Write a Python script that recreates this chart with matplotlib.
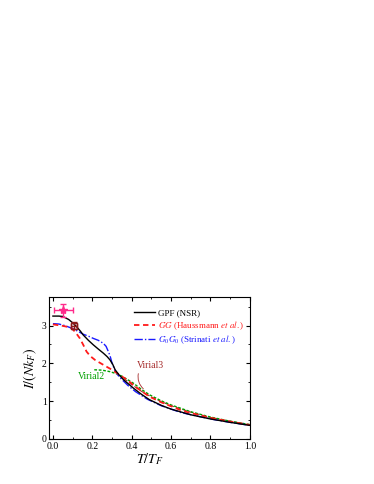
import numpy as np
import matplotlib
matplotlib.use("Agg")
import matplotlib.pyplot as plt

plt.rcParams['font.family'] = ['Liberation Serif', 'DejaVu Serif']
plt.rcParams['mathtext.fontset'] = 'stix'

# GPF (NSR) black solid
gpf_x = [0.0, 0.03, 0.05, 0.08, 0.103, 0.12, 0.14, 0.154, 0.18, 0.205, 0.23, 0.256, 0.275, 0.29, 0.305, 0.316, 0.335, 0.36, 0.41, 0.45, 0.49, 0.55, 0.6, 0.7, 0.8, 0.9, 1.0]
gpf_y = [3.25, 3.25, 3.24, 3.16, 3.06, 2.97, 2.85, 2.75, 2.61, 2.49, 2.38, 2.27, 2.18, 2.09, 1.96, 1.83, 1.70, 1.56, 1.34, 1.18, 1.04, 0.89, 0.79, 0.64, 0.53, 0.44, 0.36]

# GG (Haussmann et al.) red dashed
gg_x = [0.0, 0.04, 0.07, 0.095, 0.115, 0.137, 0.155, 0.171, 0.19, 0.214, 0.24, 0.273, 0.3, 0.34, 0.38, 0.43, 0.49, 0.55, 0.66, 0.8, 0.9, 1.0]
gg_y = [3.03, 3.0, 2.97, 2.93, 2.82, 2.66, 2.48, 2.31, 2.19, 2.09, 2.01, 1.91, 1.83, 1.69, 1.55, 1.34, 1.12, 0.97, 0.74, 0.56, 0.46, 0.37]

# G0G0 (Strinati et al.) blue dash-dot
g0_x = [0.0, 0.03, 0.06, 0.1, 0.13, 0.154, 0.18, 0.205, 0.23, 0.256, 0.27, 0.28, 0.29, 0.298, 0.307, 0.316, 0.33, 0.345, 0.38, 0.42, 0.48, 0.55, 0.65, 0.8, 0.9, 1.0]
g0_y = [3.05, 3.04, 3.0, 2.92, 2.84, 2.77, 2.72, 2.66, 2.61, 2.53, 2.45, 2.33, 2.20, 2.05, 1.92, 1.80, 1.69, 1.60, 1.42, 1.25, 1.05, 0.88, 0.70, 0.53, 0.44, 0.36]

# Virial2 green short dashes
v2_x = [0.21, 0.25, 0.29, 0.32, 0.34, 0.37, 0.41, 0.45, 0.49, 0.55, 0.6, 0.7, 0.8, 0.9, 1.0]
v2_y = [1.83, 1.82, 1.78, 1.73, 1.69, 1.60, 1.47, 1.31, 1.17, 1.01, 0.90, 0.72, 0.58, 0.47, 0.38]

# Virial3 brown
v3_x = [0.36, 0.4, 0.45, 0.5, 0.55, 0.6, 0.7, 0.8, 0.9, 1.0]
v3_y = [1.60, 1.44, 1.26, 1.11, 0.99, 0.88, 0.71, 0.57, 0.47, 0.38]

# experiments
exp1_x, exp1_y, exp1_xerr, exp1_yerr = [0.053], [3.40], [0.05], [0.17]
exp2_x, exp2_y, exp2_xerr, exp2_yerr = [0.108], [3.00], [0.015], [0.10]

fig = plt.figure(figsize=(3.74, 4.84), dpi=100)
ax = fig.add_axes([0.132, 0.093, 0.536, 0.293])

ax.plot(v3_x, v3_y, color='#a52a2a', lw=0.8, ls=(0, (4, 2)))
ax.plot(v2_x, v2_y, color='#00a000', lw=1.0, ls=(0, (2, 1.2)))
ax.plot(g0_x, g0_y, color='#1a1aff', lw=1.0, ls=(0, (6, 1.5, 1, 1.5)), label=r'$G_0G_0$ (Strinati $et\ al.$)')
ax.plot(gg_x, gg_y, color='#ff1a1a', lw=1.3, ls=(0, (3, 2)), label=r'$GG$ (Haussmann $et\ al.$)')
ax.plot(gpf_x, gpf_y, color='black', lw=1.0, label='GPF (NSR)')

ax.errorbar(exp1_x, exp1_y, xerr=exp1_xerr, yerr=exp1_yerr, fmt='*', color='#ff2a8a', ms=6, capsize=2, elinewidth=1.0)
ax.errorbar(exp2_x, exp2_y, xerr=exp2_xerr, yerr=exp2_yerr, fmt='s', color='#8b1a1a', mfc='none', ms=4, capsize=2, elinewidth=1.0, mew=1.0)

ax.text(0.125, 1.58, 'Virial2', color='#00a000', fontsize=7)
ax.text(0.428, 1.88, 'Virial3', color='#a52a2a', fontsize=7)
ax.annotate('', xy=(0.47, 1.28), xytext=(0.437, 1.80),
            arrowprops=dict(arrowstyle='-', color='#a52a2a', lw=0.6, connectionstyle='arc3,rad=0.35'))

ax.set_xlim(-0.018, 1.0)
ax.set_ylim(0, 3.75)
ax.set_xticks([0, 0.2, 0.4, 0.6, 0.8, 1.0])
ax.set_xticklabels(['0.0', '0.2', '0.4', '0.6', '0.8', '1.0'])
ax.set_yticks([0, 1, 2, 3])
ax.set_xticks(np.arange(0, 1.01, 0.1), minor=True)
ax.set_yticks(np.arange(0, 3.75, 0.5), minor=True)
ax.tick_params(which='both', direction='in', top=True, right=True, labelsize=7, pad=2)
ax.tick_params(which='major', length=3)
ax.tick_params(which='minor', length=1.5)
ax.set_xlabel(r'$T/T_F$', fontsize=10, labelpad=0)
ax.set_ylabel(r'$I/(Nk_F)$', fontsize=10, labelpad=2)

h, l = ax.get_legend_handles_labels()
leg = ax.legend(h[::-1], l[::-1], loc='upper right', bbox_to_anchor=(1.0, 0.955), fontsize=6.5, frameon=False,
                handlelength=2.4, labelspacing=0.2, handletextpad=0.3, borderaxespad=0.2)
for t, line in zip(leg.get_texts(), leg.get_lines()):
    t.set_color(line.get_color())

fig.savefig('out.png', dpi=100)
